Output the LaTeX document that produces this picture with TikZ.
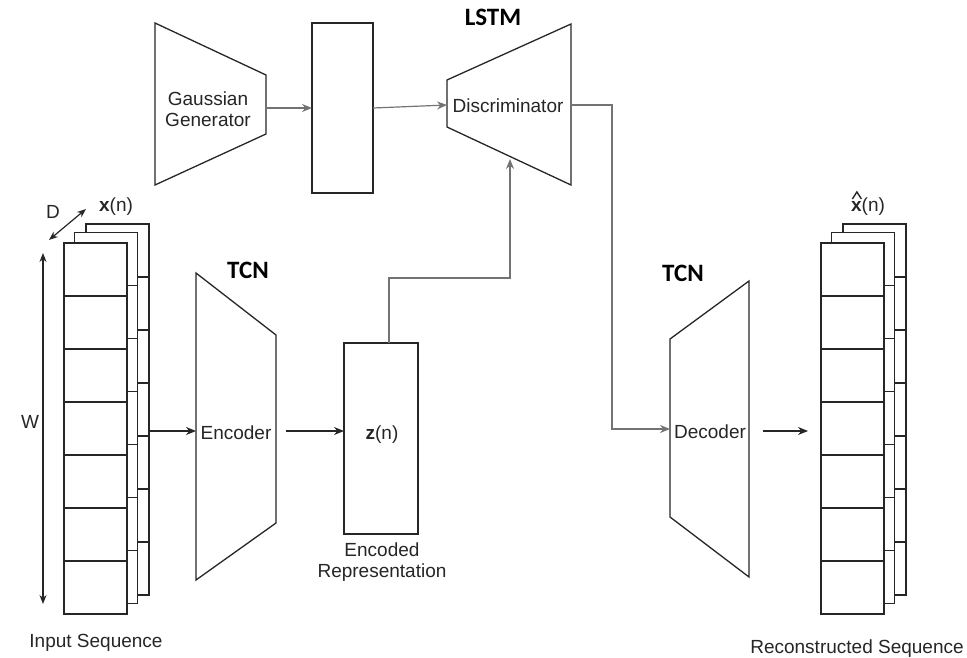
\documentclass[tikz,border=0pt]{standalone}
\usepackage{fontspec}
\setmainfont{Liberation Sans}
\newfontfamily\headfont{Carlito}
\usetikzlibrary{arrows.meta}

\begin{document}
\begin{tikzpicture}[x=1pt,y=-1pt,
  block/.style={draw=black!85, line width=1.3pt, line join=miter, fill=white},
  cell/.style={draw=black!85, line width=1.3pt, fill=white},
  flow/.style={-{Stealth[length=10pt,width=8pt]}, line width=1.2pt, draw=black!85},
  gflow/.style={-{Stealth[length=10pt,width=8pt]}, line width=1.2pt, draw=black!55},
  dim/.style={{Stealth[length=9pt,width=7pt]}-{Stealth[length=9pt,width=7pt]}, line width=1.2pt, draw=black!85},
  lbl/.style={font=\fontsize{19}{22}\selectfont, inner sep=0pt, text=black!85, align=center},
  head/.style={font=\headfont\bfseries\fontsize{25}{28}\selectfont, inner sep=0pt},
  seqstack/.pic={
    \foreach \dx/\dy in {22/-19, 10.5/-10.5, 0/0} {
      \begin{scope}[shift={(\dx,\dy)}]
        \foreach \i in {0,...,6}
          \draw[cell] (0,\i*53) rectangle (63,\i*53+53);
      \end{scope}
    }
  }]
\useasboundingbox (0,0) rectangle (967,658);

% ---------------- input sequence ----------------
\pic at (64,243) {seqstack};
\coordinate (inseq) at (149,431);
\draw[dim] (43,253) coordinate (wtop) -- (43,604) coordinate (wbot);
\draw[dim] (49,240) coordinate (dlo) -- (86,209) coordinate (dhi);
\node[lbl] (dlab) at (53,212) {D};
\node[lbl] (wlab) at (30,422) {W};
\node[lbl] (xlab) at (116,207) {\textbf{x}(n)};
\node[lbl] (inlab) at (96,643) {Input Sequence};

% ---------------- encoder ----------------
\draw[block] (196,273) -- (276,335) -- (276,523) -- (196,580) -- cycle;
\coordinate (encin) at (196,431);
\coordinate (encout) at (286,431);
\node[lbl] (enc) at (236,433) {Encoder};
\node[head] (tcn1) at (248,270) {TCN};

% ---------------- latent code ----------------
\draw[block] (344,343) rectangle (418,534);
\coordinate (zin) at (344,431);
\coordinate (ztop) at (389,343);
\node[lbl] (z) at (382,435) {\textbf{z}(n)};
\node[lbl] (zlab) at (382,562) {Encoded\\[-1pt]Representation};

% ---------------- adversarial branch ----------------
\draw[block] (155,23) -- (266,75) -- (266,134) -- (155,185) -- cycle;
\coordinate (genout) at (266,108);
\node[lbl] (gen) at (208,109) {Gaussian\\[-1pt]Generator};

\draw[block] (312,23) rectangle (373,193);
\coordinate (priorin) at (312,108);
\coordinate (priorout) at (373,108);

\draw[block] (447,80) -- (571,24) -- (571,185) -- (447,127) -- cycle;
\coordinate (discin) at (447,105);
\coordinate (discbot) at (510,159);
\coordinate (discout) at (571,105);
\node[lbl] (disc) at (508,106) {Discriminator};
\node[head] (lstm) at (493,17) {LSTM};

% ---------------- decoder ----------------
\draw[block] (670,339) -- (749,281) -- (749,577) -- (670,517) -- cycle;
\coordinate (decin) at (670,429);
\coordinate (decout) at (763,431);
\node[lbl] (dec) at (710,432) {Decoder};
\node[head] (tcn2) at (683,273) {TCN};

% ---------------- reconstructed sequence ----------------
\pic at (821,243) {seqstack};
\coordinate (outseq) at (808,431);
\node[lbl] (xhlab) at (868,207) {\textbf{x}(n)};
% hat over the bold x
\draw[line width=1.4pt, draw=black!85, line join=miter]
  ([xshift=1.5pt,yshift=-1pt]xhlab.north west) -- ++(4.5,-7) -- ++(4.5,7);
\node[lbl] (outlab) at (857,649) {Reconstructed Sequence};

% ---------------- connectors ----------------
\draw[flow] (inseq) -- (encin);
\draw[flow] (encout) -- (zin);
\draw[flow] (decout) -- (outseq);
\draw[gflow] (genout) -- (priorin);
\draw[gflow] (priorout) -- (discin);
\draw[gflow] (ztop) -- (389,278) -| (discbot);
\draw[gflow] (discout) -| (612,429) -- (decin);
\end{tikzpicture}
\end{document}
